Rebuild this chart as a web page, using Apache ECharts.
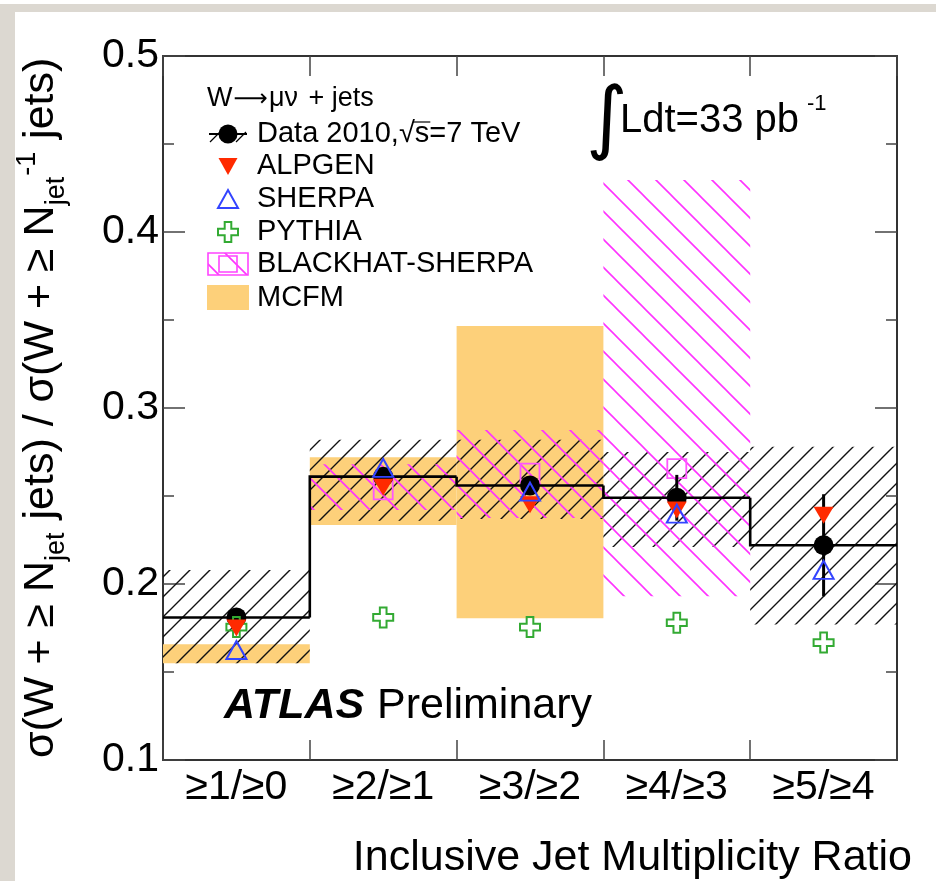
<!DOCTYPE html>
<html>
<head>
<meta charset="utf-8">
<script src="https://cdn.jsdelivr.net/npm/echarts@6.0.0/dist/echarts.min.js"></script>
<style>
  html, body { margin: 0; padding: 0; background: #fff; }
  #chart { width: 936px; height: 881px; }
</style>
</head>
<body>
<div id="chart"></div>
<script>
// Inclusive jet multiplicity ratios, W -> mu nu + jets
const categories = ['≥1/≥0', '≥2/≥1', '≥3/≥2', '≥4/≥3', '≥5/≥4'];
const yTicks = [0.1, 0.2, 0.3, 0.4, 0.5];

const dataVal  = [0.181, 0.261, 0.256, 0.249, 0.222];
const dataStat = [0.003, 0.004, 0.005, 0.013, 0.029];
const systLow  = [0.155, 0.236, 0.237, 0.221, 0.177];
const systHigh = [0.208, 0.282, 0.282, 0.275, 0.278];

const alpgen = [0.175, 0.255, 0.245, 0.242, 0.239];
const sherpa = [0.1625, 0.266, 0.2525, 0.240, 0.208];
const pythia = [0.1755, 0.181, 0.1755, 0.178, 0.1667];

const blackhat     = [null, 0.2535, 0.263, 0.2655, null];
const blackhatLow  = [null, 0.242, 0.2375, 0.193, null];
const blackhatHigh = [null, 0.268, 0.2875, 0.4295, null];

const mcfmLow  = [0.155, 0.2335, 0.1805, null, null];
const mcfmHigh = [0.1658, 0.272, 0.3466, null, null];

const FONT = "'Liberation Sans', Arial, Helvetica, sans-serif";

// diagonal hatch tile; dir '/' or '\\'
function hatch(color, step, dir, lw) {
  const c = document.createElement('canvas');
  c.width = step; c.height = step;
  const g = c.getContext('2d');
  g.strokeStyle = color; g.lineWidth = lw; g.lineCap = 'square';
  g.beginPath();
  if (dir === '/') {
    g.moveTo(-2, step + 2); g.lineTo(step + 2, -2);
    g.moveTo(-2, 2); g.lineTo(2, -2);
    g.moveTo(step - 2, step + 2); g.lineTo(step + 2, step - 2);
  } else {
    g.moveTo(-2, -2); g.lineTo(step + 2, step + 2);
    g.moveTo(step - 2, -2); g.lineTo(step + 2, 2);
    g.moveTo(-2, step - 2); g.lineTo(2, step + 2);
  }
  g.stroke();
  return c;
}
const blackHatch = { image: hatch('#111', 20, '/', 1.4), repeat: 'repeat' };
const magentaHatch = { image: hatch('#ff33ff', 28, '\\', 1.6), repeat: 'repeat' };

function bandData(lo, hi) {
  const out = [];
  lo.forEach((v, i) => { if (v != null && hi[i] != null) out.push([i, v, hi[i]]); });
  return out;
}
function pointData(arr) {
  const out = [];
  arr.forEach((v, i) => { if (v != null) out.push([i, v]); });
  return out;
}
function bandRenderer(fill) {
  return function (params, api) {
    const i = api.value(0);
    const w = api.size([1, 0])[0];
    const top = api.coord([i, api.value(2)]);
    const bot = api.coord([i, api.value(1)]);
    return {
      type: 'rect',
      shape: { x: top[0] - w / 2, y: top[1], width: w, height: bot[1] - top[1] },
      style: { fill: fill }
    };
  };
}

const stepData = dataVal.map((v, i) => [i, v, i > 0 ? dataVal[i - 1] : v]);
const errData = dataVal.map((v, i) => [i, v - dataStat[i], v + dataStat[i]]);

// text measuring for composed labels
const mctx = document.createElement('canvas').getContext('2d');
function tw(str, size, family) {
  mctx.font = size + 'px ' + (family || FONT);
  return mctx.measureText(str).width;
}
// place a text piece by its alphabetic baseline
function piece(str, x, baseline, size, extra) {
  return {
    type: 'text',
    x: x, y: baseline - 0.3465 * size,
    style: Object.assign({
      text: str, fontSize: size, fontFamily: FONT, fill: '#000',
      align: 'left', verticalAlign: 'middle'
    }, extra || {})
  };
}

// rotated y-axis title built from runs: [text, size, baseline shift]
function yTitle() {
  const F = 43, S = 27;
  const runs = [
    ['σ(W + ≥ N', F, 0], ['jet', S, 10], [' jets) / σ(W + ≥ N', F, 0],
    ['jet', S, 10], ['-1', S, -19], [' jets)', F, 0]
  ];
  const kids = [];
  let x = 0;
  runs.forEach(r => {
    const [t, size, dy] = r;
    kids.push(piece(t, x, dy, size));
    x += tw(t, size) + (size === S ? 1 : 0);
  });
  return { type: 'group', x: 56, y: 758, rotation: Math.PI / 2, children: kids };
}

const legendX = 228, legendTextX = 257;
const legendRows = [
  { y: 134, label: 'Data 2010,√s=7 TeV' },
  { y: 166, label: 'ALPGEN' },
  { y: 199, label: 'SHERPA' },
  { y: 232, label: 'PYTHIA' },
  { y: 264, label: 'BLACKHAT-SHERPA' },
  { y: 298, label: 'MCFM' }
];
const LS = 29;

function legendGraphics() {
  const g = [];
  // header: W -> mu nu + jets
  const HS = 27, ARROW = "'DejaVu Sans', sans-serif";
  let hx = 207;
  g.push(piece('W', hx, 108, HS)); hx += tw('W', HS) + 1;
  g.push(piece('⟶', hx, 108, 24, { fontFamily: ARROW })); hx += tw('⟶', 24, ARROW) + 1;
  g.push(piece('μν', hx, 108, HS)); hx += tw('μν', HS);
  g.push(piece(' + jets', hx + 3, 108, HS));

  legendRows.forEach(r => g.push(piece(r.label, legendTextX, r.y + 10.5, LS)));
  // overline of the square root
  const sx = legendTextX + tw('Data 2010,', LS);
  const sw = tw('√', LS) + tw('s', LS);
  g.push({ type: 'line', shape: { x1: sx + tw('√', LS) - 2, y1: 122, x2: sx + sw + 1, y2: 122 },
           style: { stroke: '#000', lineWidth: 1.2 } });
  // data symbol: line, hatch strokes and full circle
  const dy = legendRows[0].y;
  g.push({ type: 'line', shape: { x1: 209, y1: dy, x2: 247, y2: dy }, style: { stroke: '#000', lineWidth: 2 } });
  g.push({ type: 'line', shape: { x1: 210, y1: dy + 8, x2: 222, y2: dy - 4 }, style: { stroke: '#000', lineWidth: 1.3 } });
  g.push({ type: 'line', shape: { x1: 236, y1: dy + 8, x2: 246, y2: dy - 2 }, style: { stroke: '#000', lineWidth: 1.3 } });
  g.push({ type: 'circle', shape: { cx: legendX, cy: dy, r: 9.5 }, style: { fill: '#000' } });
  // ALPGEN
  const ay = legendRows[1].y;
  g.push({ type: 'polygon', shape: { points: [[legendX - 9.5, ay - 8], [legendX + 9.5, ay - 8], [legendX, ay + 9]] }, style: { fill: '#ff2a00' } });
  // SHERPA
  const sy = legendRows[2].y;
  g.push({ type: 'polygon', shape: { points: [[legendX - 10, sy + 9], [legendX + 10, sy + 9], [legendX, sy - 9]] }, style: { fill: 'none', stroke: '#3344ff', lineWidth: 2 } });
  // PYTHIA
  const py = legendRows[3].y, a = 3.3, b = 10;
  g.push({ type: 'polygon', shape: { points: [
    [legendX - a, py - b], [legendX + a, py - b], [legendX + a, py - a], [legendX + b, py - a],
    [legendX + b, py + a], [legendX + a, py + a], [legendX + a, py + b], [legendX - a, py + b],
    [legendX - a, py + a], [legendX - b, py + a], [legendX - b, py - a], [legendX - a, py - a]] },
    style: { fill: 'none', stroke: '#33aa33', lineWidth: 2 } });
  // BLACKHAT-SHERPA
  g.push({ type: 'rect', shape: { x: 208, y: 253, width: 40, height: 22 }, style: { fill: magentaHatch, stroke: '#ff44ff', lineWidth: 1.6 } });
  g.push({ type: 'rect', shape: { x: 219, y: 256, width: 18, height: 16 }, style: { fill: 'none', stroke: '#ff44ff', lineWidth: 1.6 } });
  // MCFM
  g.push({ type: 'rect', shape: { x: 207, y: 285, width: 42, height: 25 }, style: { fill: '#fdd07a' } });
  return g;
}

const chart = echarts.init(document.getElementById('chart'), null, { renderer: 'canvas' });

const axisLine = { show: true, lineStyle: { color: '#333', width: 2 } };
const xTick = { show: true, inside: true, length: 20, lineStyle: { color: '#444', width: 1.5 } };
const yTick = { show: true, inside: true, length: 22, lineStyle: { color: '#444', width: 1.5 } };
const yMinor = { show: true, splitNumber: 2, length: 11, lineStyle: { color: '#444', width: 1.5 } };

const option = {
  backgroundColor: '#fff',
  animation: false,
  grid: { left: 163, right: 39, top: 56, bottom: 121, containLabel: false },
  xAxis: [
    { type: 'category', data: categories, position: 'bottom', axisLine, axisTick: xTick,
      axisLabel: { fontSize: 41, color: '#000', fontFamily: FONT, margin: 7, interval: 0 },
      splitLine: { show: false } },
    { type: 'category', data: categories, position: 'top', axisLine, axisTick: xTick,
      axisLabel: { show: false }, splitLine: { show: false } }
  ],
  yAxis: [
    { type: 'value', min: yTicks[0], max: yTicks[yTicks.length - 1], interval: 0.1, position: 'left',
      axisLine, axisTick: yTick, minorTick: yMinor,
      axisLabel: { fontSize: 41, color: '#000', fontFamily: FONT, margin: 4, formatter: v => v.toFixed(1) },
      splitLine: { show: false } },
    { type: 'value', min: yTicks[0], max: yTicks[yTicks.length - 1], interval: 0.1, position: 'right',
      axisLine, axisTick: yTick, minorTick: yMinor, axisLabel: { show: false }, splitLine: { show: false } }
  ],
  series: [
    { name: 'MCFM', type: 'custom', z: 1, renderItem: bandRenderer('#fdd07a'),
      encode: { x: 0, y: [1, 2] }, data: bandData(mcfmLow, mcfmHigh) },
    { name: 'Data syst', type: 'custom', z: 2, renderItem: bandRenderer(blackHatch),
      encode: { x: 0, y: [1, 2] }, data: bandData(systLow, systHigh) },
    { name: 'BLACKHAT-SHERPA band', type: 'custom', z: 3, renderItem: bandRenderer(magentaHatch),
      encode: { x: 0, y: [1, 2] }, data: bandData(blackhatLow, blackhatHigh) },
    { name: 'Data step', type: 'custom', z: 4, encode: { x: 0, y: [1, 2] }, data: stepData,
      renderItem: function (params, api) {
        const i = api.value(0);
        const w = api.size([1, 0])[0];
        const c = api.coord([i, api.value(1)]);
        const p = api.coord([i, api.value(2)]);
        return { type: 'polyline',
          shape: { points: [[c[0] - w / 2, p[1]], [c[0] - w / 2, c[1]], [c[0] + w / 2, c[1]]] },
          style: { stroke: '#000', lineWidth: 2.6, fill: 'none', lineJoin: 'miter' } };
      } },
    { name: 'BLACKHAT-SHERPA', type: 'scatter', z: 5, symbol: 'rect', symbolSize: 19,
      itemStyle: { color: 'rgba(0,0,0,0)', borderColor: '#ff55ff', borderWidth: 1.8, opacity: 1 },
      data: pointData(blackhat) },
    { name: 'Data stat', type: 'custom', z: 6, encode: { x: 0, y: [1, 2] }, data: errData,
      renderItem: function (params, api) {
        const i = api.value(0);
        const lo = api.coord([i, api.value(1)]);
        const hi = api.coord([i, api.value(2)]);
        return { type: 'line', shape: { x1: lo[0], y1: lo[1], x2: hi[0], y2: hi[1] },
          style: { stroke: '#000', lineWidth: 3 } };
      } },
    { name: 'Data 2010', type: 'scatter', z: 7, symbol: 'circle', symbolSize: 20,
      itemStyle: { color: '#000', opacity: 1 }, data: pointData(dataVal) },
    { name: 'PYTHIA', type: 'scatter', z: 8,
      symbol: 'path://M1,0 L2,0 L2,1 L3,1 L3,2 L2,2 L2,3 L1,3 L1,2 L0,2 L0,1 L1,1 Z', symbolSize: 20,
      itemStyle: { color: 'rgba(0,0,0,0)', borderColor: '#33aa33', borderWidth: 2, opacity: 1 },
      data: pointData(pythia) },
    { name: 'ALPGEN', type: 'scatter', z: 9, symbol: 'triangle', symbolRotate: 180, symbolSize: [20, 17],
      itemStyle: { color: '#ff2a00', opacity: 1 }, data: pointData(alpgen) },
    { name: 'SHERPA', type: 'scatter', z: 10, symbol: 'triangle', symbolSize: [20, 18],
      itemStyle: { color: 'rgba(0,0,0,0)', borderColor: '#3344ff', borderWidth: 2, opacity: 1 },
      data: pointData(sherpa) }
  ],
  graphic: [
    // grey mount around the figure
    { type: 'rect', shape: { x: 0, y: 4, width: 936, height: 8 }, style: { fill: '#dcd8d1' }, z: 100 },
    { type: 'rect', shape: { x: 0, y: 4, width: 15, height: 877 }, style: { fill: '#dcd8d1' }, z: 100 },
    yTitle(),
    // axis title
    piece('Inclusive Jet Multiplicity Ratio', 912, 873, 43, { align: 'right' }),
    // luminosity
    piece('∫', 586, 151, 80, { fontFamily: "'DejaVu Sans', sans-serif" }),
    piece('Ldt=33 pb', 620, 135, 40),
    piece('-1', 807, 112, 22),
    // experiment label
    piece('ATLAS', 224, 721, 43, { fontWeight: 'bold', fontStyle: 'italic' }),
    piece('Preliminary', 377, 721, 43),
    ...legendGraphics()
  ]
};

chart.setOption(option);
</script>
</body>
</html>
